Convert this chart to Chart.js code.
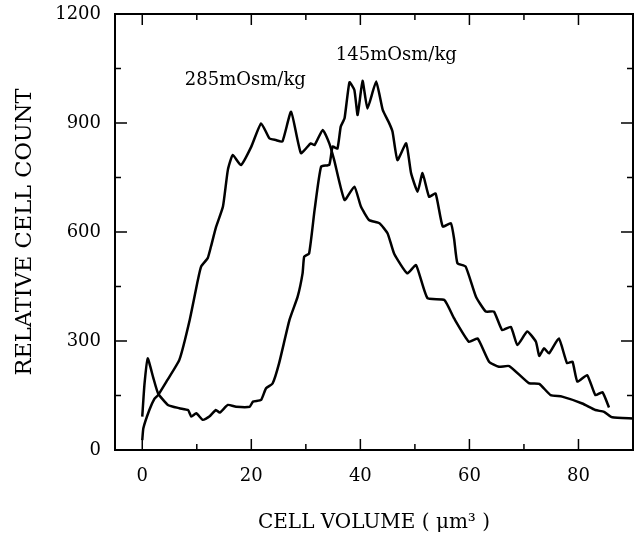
<!DOCTYPE html>
<html>
<head>
<meta charset="utf-8">
<script src="https://cdn.jsdelivr.net/npm/chart.js@4.4.1/dist/chart.umd.min.js"></script>
<style>
  html, body { margin: 0; padding: 0; background: #fff; }
  #wrap { width: 635px; height: 539px; position: relative; }
</style>
</head>
<body>
<div id="wrap"><canvas id="chart1"></canvas></div>
<script>
// cell volume distributions
const vol285 = [0, 0.2, 1.3, 2.2, 2.9, 4.5, 6.8, 8.7, 10.2, 10.8, 12, 12.6, 13.5, 14.8, 15.7, 16.6, 18.1, 20, 21.8, 23.3, 24.5, 25.7, 27.3, 29.1, 30.9, 31.6, 33.1, 34.3, 35.2, 37.1, 38.9, 40.1, 41.6, 43.5, 45, 46.2, 48.6, 50.2, 52.3, 55.4, 57.2, 59.9, 61.5, 63.6, 65.4, 67.3, 70.9, 72.8, 74.9, 77, 80.7, 83.1, 84.7, 86.2, 90];
const count285 = [27, 60, 110, 140, 151, 190, 248, 358, 468, 505, 528, 560, 612, 670, 771, 812, 784, 835, 899, 858, 853, 849, 931, 817, 844, 839, 881, 844, 798, 688, 725, 670, 633, 624, 596, 540, 486, 509, 418, 413, 362, 298, 307, 243, 229, 231, 184, 182, 151, 147, 128, 110, 105, 90, 87];

const vol145 = [0, 0.4, 1, 2, 2.9, 4.7, 6.8, 8.4, 9, 9.9, 11.1, 12.3, 13.5, 14.2, 15.7, 17.2, 19.7, 20.3, 21.8, 22.7, 23.9, 25.1, 27, 28.5, 29.4, 29.7, 30.6, 31.6, 32.8, 34.3, 34.9, 35.8, 36.4, 37.1, 38, 38.9, 39.5, 40.4, 41.3, 42.9, 44.1, 45.3, 45.9, 46.8, 48.4, 49.3, 50.5, 51.4, 52.6, 53.8, 55.1, 56.6, 57.2, 57.8, 59.3, 61.2, 63, 64.5, 66, 67.6, 68.8, 70.6, 72.2, 72.8, 73.7, 74.6, 76.4, 77.9, 78.9, 79.8, 81.6, 83.1, 84.4, 85.6];
const count145 = [92, 180, 252, 200, 156, 124, 115, 110, 92, 101, 83, 92, 110, 103, 124, 119, 119, 133, 138, 170, 183, 239, 358, 422, 486, 532, 541, 660, 780, 785, 835, 830, 890, 913, 1012, 991, 922, 1016, 940, 1014, 936, 899, 876, 798, 844, 762, 711, 762, 697, 706, 615, 624, 580, 514, 505, 422, 381, 381, 330, 339, 289, 326, 298, 259, 280, 266, 307, 239, 243, 188, 206, 151, 159, 117];

const xTicks = [0, 20, 40, 60, 80];
const xMinor = [10, 30, 50, 70];
const yTicks = [0, 300, 600, 900, 1200];
const yMinor = [150, 450, 750, 1050];

const curveLabels = [
  { text: '285mOsm/kg', x: 18.9, y: 1018 },
  { text: '145mOsm/kg', x: 46.6, y: 1087 }
];

const serif = 'DejaVu Serif';

const toPoints = (xs, ys) => xs.map((v, i) => ({ x: v, y: ys[i] }));

// frame with inward ticks on all four sides + curve labels
const framePlugin = {
  id: 'frame',
  afterDraw(chart) {
    const { ctx, chartArea: a, scales: { x, y } } = chart;
    ctx.save();
    ctx.strokeStyle = '#000';
    ctx.lineWidth = 2;
    ctx.strokeRect(a.left, a.top, a.right - a.left, a.bottom - a.top);
    ctx.lineWidth = 1.5;
    ctx.beginPath();
    const xt = (v, len) => {
      const px = x.getPixelForValue(v);
      ctx.moveTo(px, a.bottom); ctx.lineTo(px, a.bottom - len);
      ctx.moveTo(px, a.top); ctx.lineTo(px, a.top + len);
    };
    const yt = (v, len) => {
      const py = y.getPixelForValue(v);
      ctx.moveTo(a.left, py); ctx.lineTo(a.left + len, py);
      ctx.moveTo(a.right, py); ctx.lineTo(a.right - len, py);
    };
    xTicks.forEach(v => xt(v, 11));
    xMinor.forEach(v => xt(v, 6));
    yTicks.forEach(v => yt(v, 12));
    yMinor.forEach(v => yt(v, 6));
    ctx.stroke();

    ctx.fillStyle = '#000';
    ctx.font = '18px "' + serif + '"';
    ctx.textAlign = 'center';
    ctx.textBaseline = 'middle';
    curveLabels.forEach(l => {
      ctx.fillText(l.text, x.getPixelForValue(l.x), y.getPixelForValue(l.y));
    });
    ctx.restore();
  }
};

const cfg1 = {
  type: 'line',
  data: {
    datasets: [
      { label: '285mOsm/kg', data: toPoints(vol285, count285), borderColor: '#000', borderWidth: 2.5, pointRadius: 0, tension: 0.15 },
      { label: '145mOsm/kg', data: toPoints(vol145, count145), borderColor: '#000', borderWidth: 2.5, pointRadius: 0, tension: 0.15 }
    ]
  },
  options: {
    responsive: true,
    maintainAspectRatio: false,
    animation: false,
    layout: { padding: { top: 14, right: 2, left: 0, bottom: 0 } },
    plugins: { legend: { display: false }, tooltip: { enabled: false } },
    scales: {
      x: {
        type: 'linear', min: -5, max: 90,
        grid: { display: false, drawTicks: false },
        border: { display: false },
        afterBuildTicks: s => { s.ticks = xTicks.map(v => ({ value: v })); },
        afterFit: s => { s.height = 89; s.paddingLeft = 0; s.paddingRight = 0; },
        ticks: { color: '#000', padding: 16, font: { family: serif, size: 18 }, callback: v => String(v) },
        title: { display: true, text: 'CELL VOLUME ( μm³ )', color: '#000', padding: { top: 14 }, font: { family: serif, size: 20 } }
      },
      y: {
        type: 'linear', min: 0, max: 1200,
        grid: { display: false, drawTicks: false },
        border: { display: false },
        afterBuildTicks: s => { s.ticks = yTicks.map(v => ({ value: v })); },
        afterFit: s => { s.width = 115; s.paddingTop = 0; s.paddingBottom = 0; },
        ticks: { color: '#000', padding: 14, font: { family: serif, size: 18 }, callback: v => String(v) },
        title: { display: true, text: 'RELATIVE CELL COUNT', color: '#000', padding: { top: 12 }, font: { family: serif, size: 22.5 } }
      }
    }
  },
  plugins: [framePlugin]
};

const chart1 = new Chart(document.getElementById('chart1').getContext('2d'), cfg1);
</script>
</body>
</html>
